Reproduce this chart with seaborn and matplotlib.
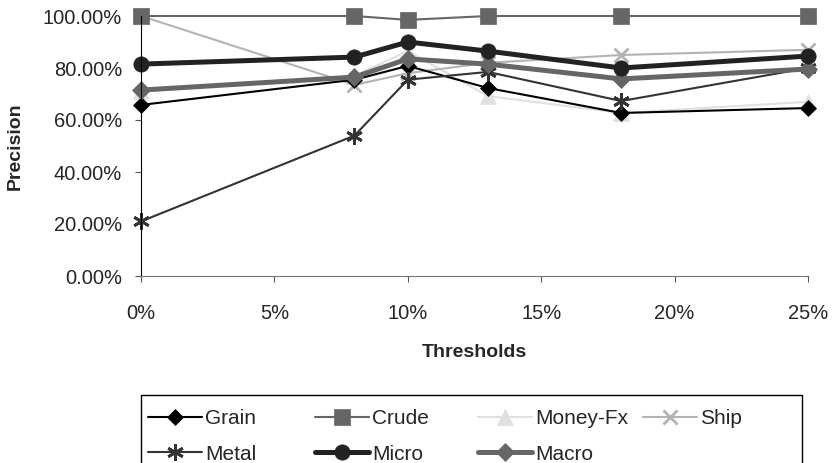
import matplotlib
matplotlib.use('Agg')
import matplotlib.pyplot as plt
import matplotlib.ticker as mtick
from matplotlib.patches import Rectangle
import numpy as np
import pandas as pd
import seaborn as sns

# thresholds (fraction) and precision per category
thresholds = [0.00, 0.08, 0.10, 0.13, 0.18, 0.25]
grain = [0.658, 0.755, 0.808, 0.723, 0.627, 0.646]
crude = [1.000, 1.000, 0.985, 1.000, 1.000, 1.000]
money_fx = [0.710, 0.770, 0.865, 0.692, 0.627, 0.670]
ship = [1.000, 0.735, 0.780, 0.820, 0.850, 0.870]
metal = [0.210, 0.540, 0.755, 0.785, 0.673, 0.800]
micro = [0.815, 0.842, 0.900, 0.865, 0.800, 0.846]
macro = [0.715, 0.765, 0.835, 0.815, 0.758, 0.796]

series = ['Grain', 'Crude', 'Money-Fx', 'Ship', 'Metal', 'Micro', 'Macro']
values = [grain, crude, money_fx, ship, metal, micro, macro]

# look of each series: colour, marker, marker size, line width
styles = {
    'Grain':    ('#000000', 'D', 8, 1.5),
    'Crude':    ('#666666', 's', 11, 1.5),
    'Money-Fx': ('#e0e0e0', '^', 11, 1.5),
    'Ship':     ('#b3b3b3', 'x', 10, 1.5),
    'Metal':    ('#333333', (6, 2, 0), 12, 1.5),
    'Micro':    ('#222222', 'o', 11, 3.6),
    'Macro':    ('#666666', 'D', 9, 3.6),
}
draw_order = ['Money-Fx', 'Ship', 'Crude', 'Grain', 'Metal', 'Macro', 'Micro']

rows = []
for name, vals in zip(series, values):
    for t, v in zip(thresholds, vals):
        rows.append([name, t, v])
df = pd.DataFrame(rows, columns=['series', 'threshold', 'precision'])

sns.set_style('ticks')
plt.rcParams['font.family'] = ['Liberation Sans', 'DejaVu Sans']

W, H = 833, 463
fig = plt.figure(figsize=(W / 100, H / 100), dpi=100)
ax = fig.add_axes([141 / W, 1 - 276 / H, (808 - 141) / W, (276 - 16) / H])

for name in draw_order:
    color, marker, ms, lw = styles[name]
    sub = df[df['series'] == name]
    sns.lineplot(data=sub, x='threshold', y='precision', ax=ax, color=color,
                 marker=marker, markersize=ms, linewidth=lw,
                 markeredgecolor=color, markeredgewidth=2 if marker in ('x', (6, 2, 0)) else 0.5,
                 label=name, clip_on=False)

h, l = ax.get_legend_handles_labels()
hd = dict(zip(l, h))
ax.get_legend().remove()

ax.set_xlim(0, 0.25)
ax.set_ylim(0, 1.0)
ax.set_xticks(np.arange(0, 0.2501, 0.05))
ax.set_yticks(np.arange(0, 1.001, 0.2))
ax.xaxis.set_major_formatter(mtick.PercentFormatter(1.0, decimals=0))
ax.yaxis.set_major_formatter(mtick.PercentFormatter(1.0, decimals=2))
ax.tick_params(labelsize=14.5, length=4.5, color='#555555')
ax.tick_params(axis='x', pad=16)
ax.tick_params(axis='y', pad=9)
ax.set_xlabel('Thresholds', fontsize=14, fontweight='bold', labelpad=15)
ax.set_ylabel('Precision', fontsize=14, fontweight='bold', labelpad=14)
sns.despine(ax=ax)
ax.spines['left'].set_color('black')
ax.spines['bottom'].set_color('#777777')

# legend: four columns placed by hand inside one frame
columns = [['Grain', 'Metal'], ['Crude', 'Micro'], ['Money-Fx', 'Macro'], ['Ship']]
col_x = [148, 315, 478, 643]
for names, x in zip(columns, col_x):
    fig.legend([hd[n] for n in names], names, loc='upper left',
               bbox_to_anchor=(x / W, 1 - 409 / H), frameon=False,
               fontsize=15, handlelength=2.6, handletextpad=0.15,
               borderpad=0, borderaxespad=0, labelspacing=0.8)
fig.add_artist(Rectangle((141 / W, 1 - 480 / H), (802 - 141) / W, (480 - 395) / H,
                         transform=fig.transFigure, fill=False,
                         edgecolor='black', linewidth=1.0))

fig.savefig('out.png', dpi=100)
